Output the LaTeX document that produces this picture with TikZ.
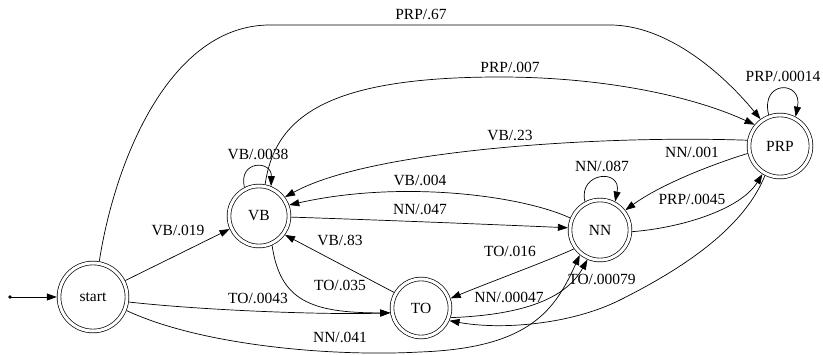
\documentclass[tikz,border=0pt]{standalone}
\usepackage{fontspec}
\setmainfont{Liberation Serif}
\usetikzlibrary{arrows.meta}
\begin{document}
\begin{tikzpicture}[x=1pt,y=-1pt,
  state/.style={circle,draw,double,double distance=3pt,line width=0.7pt,outer sep=2.2pt,inner sep=0pt,font=\fontsize{15.5}{18}\selectfont},
  lbl/.style={inner sep=0pt,font=\fontsize{15.5}{18}\selectfont},
  arr/.style={draw,line width=0.7pt,-{Triangle[length=10pt,width=7pt]}}]
\useasboundingbox (0,0) rectangle (823,355);
\node[state,minimum size=68pt] (S) at (93,297) {start};
\node[state,minimum size=60pt] (VB) at (259,216) {VB};
\node[state,minimum size=58pt] (TO) at (421,308) {TO};
\node[state,minimum size=60pt] (NN) at (600,230) {NN};
\node[state,minimum size=62pt] (PRP) at (780,146) {PRP};
\coordinate (init) at (10,297);
\fill (init) circle (1.8pt);
\draw[arr] (init) -- (S);
% edges
\draw[arr] (S.80) .. controls (115,160) and (170,25) .. (270,25) -- (610,25) .. controls (665,25) and (720,70) .. (PRP.126);
\draw[arr] (VB.79) .. controls (275,115) and (330,77) .. (500,77) .. controls (600,77) and (690,95) .. (PRP.140);
\draw[arr] (PRP.170) .. controls (600,135) and (370,150) .. (VB.36);
\draw[arr] (NN.158) .. controls (520,195) and (400,180) .. (VB.20);
\draw[arr] (VB.-2) .. controls (380,220) and (480,224) .. (NN.176);
\draw[arr] (S.27) -- (VB.204);
\draw[arr] (TO.150) -- (VB.-36);
\draw[arr] (VB.-66) .. controls (280,300) and (310,313) .. (TO.189);
\draw[arr] (S.-8) .. controls (200,310) and (320,315) .. (TO.189);
\draw[arr] (S.-22) .. controls (200,345) and (330,357) .. (420,352) .. controls (530,348) and (555,310) .. (NN.231);
\draw[arr] (NN.216) .. controls (545,262) and (490,282) .. (TO.18);
\draw[arr] (TO.-18) .. controls (520,315) and (565,300) .. (NN.-113);
\draw[arr] (PRP.-117) .. controls (745,225) and (690,265) .. (620,300) .. controls (570,325) and (500,330) .. (TO.-24);
\draw[arr] (NN.-3) .. controls (680,228) and (740,210) .. (PRP.-122);
\draw[arr] (PRP.193) .. controls (710,165) and (660,185) .. (NN.38);
% loops
\draw[arr] (VB.117) .. controls (238,160) and (272,160) .. (VB.68);
\draw[arr] (NN.118) .. controls (578,172) and (622,168) .. (NN.62);
\draw[arr] (PRP.110) .. controls (760,80) and (803,80) .. (PRP.62);
% labels
\node[lbl] (l1) at (421,14) {PRP/.67};
\node[lbl] (l2) at (510,67) {PRP/.007};
\node[lbl] (l3) at (510,135) {VB/.23};
\node[lbl] (l4) at (420,180) {VB/.004};
\node[lbl] (l5) at (420,209) {NN/.047};
\node[lbl] (l6) at (178,230) {VB/.019};
\node[lbl] (l7) at (340,240) {VB/.83};
\node[lbl] (l8) at (340,285) {TO/.035};
\node[lbl] (l9) at (258,298) {TO/.0043};
\node[lbl] (l10) at (340,337) {NN/.041};
\node[lbl] (l11) at (510,251) {TO/.016};
\node[lbl] (l12) at (509,297) {NN/.00047};
\node[lbl] (l13) at (602,279) {TO/.00079};
\node[lbl] (l14) at (692,199) {PRP/.0045};
\node[lbl] (l15) at (692,152) {NN/.001};
\node[lbl] (l16) at (258,154) {VB/.0038};
\node[lbl] (l17) at (602,166) {NN/.087};
\node[lbl] (l18) at (783,76) {PRP/.00014};
\end{tikzpicture}
\end{document}
